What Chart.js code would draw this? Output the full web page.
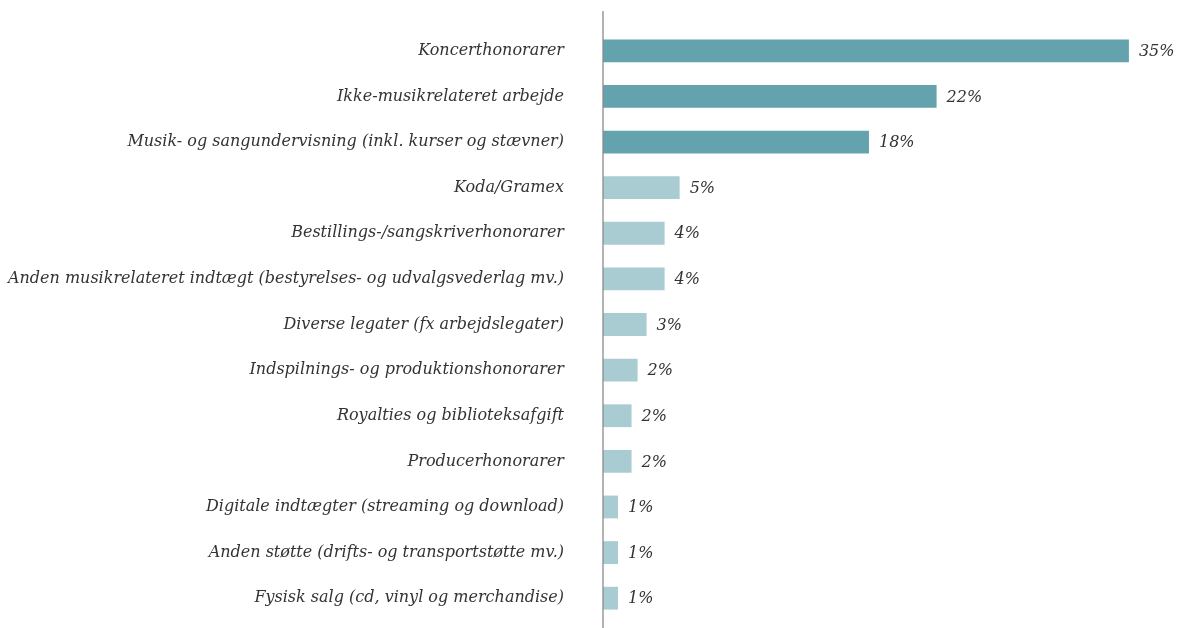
<!DOCTYPE html>
<html><head><meta charset="utf-8">
<script src="https://cdn.jsdelivr.net/npm/chart.js@4.4.1/dist/chart.umd.min.js"></script>
<style>html,body{margin:0;padding:0;background:#fff}#wrap{width:1185px;height:628px;position:relative}</style>
</head><body><div id="wrap"><canvas id="c"></canvas></div>
<script>
const categories = [
  "Koncerthonorarer",
  "Ikke-musikrelateret arbejde",
  "Musik- og sangundervisning (inkl. kurser og stævner)",
  "Koda/Gramex",
  "Bestillings-/sangskriverhonorarer",
  "Anden musikrelateret indtægt (bestyrelses- og udvalgsvederlag mv.)",
  "Diverse legater (fx arbejdslegater)",
  "Indspilnings- og produktionshonorarer",
  "Royalties og biblioteksafgift",
  "Producerhonorarer",
  "Digitale indtægter (streaming og download)",
  "Anden støtte (drifts- og transportstøtte mv.)",
  "Fysisk salg (cd, vinyl og merchandise)"
];
const shares = [35, 22.2, 17.7, 5.1, 4.1, 4.1, 2.9, 2.3, 1.9, 1.9, 1.0, 1.0, 1.0];
const valueLabels = ["35%","22%","18%","5%","4%","4%","3%","2%","2%","2%","1%","1%","1%"];
const highlightCount = 3;

const dark = "#64a3ad", light = "#a9cbd2";
const FONT = "'DejaVu Serif'";

const labelPlugin = {
  id: 'valLabels',
  afterDatasetsDraw(chart) {
    const ctx = chart.ctx;
    const meta = chart.getDatasetMeta(0);
    ctx.save();
    ctx.font = "italic 16px " + FONT;
    ctx.fillStyle = "#333333";
    ctx.textBaseline = "middle";
    ctx.textAlign = "left";
    meta.data.forEach((bar, i) => {
      ctx.fillText(valueLabels[i], bar.x + 10, bar.y + 1);
    });
    ctx.restore();
  }
};
const axisLinePlugin = {
  id: 'axisLine',
  afterDraw(chart) {
    const ctx = chart.ctx;
    const x = chart.chartArea.left;
    ctx.save();
    ctx.strokeStyle = "#8a8a8a";
    ctx.lineWidth = 1.3;
    ctx.beginPath();
    ctx.moveTo(x, chart.chartArea.top - 17);
    ctx.lineTo(x, chart.height);
    ctx.stroke();
    ctx.restore();
  }
};

new Chart(document.getElementById('c'), {
  type: 'bar',
  data: {
    labels: categories,
    datasets: [{
      data: shares,
      backgroundColor: shares.map((v, i) => i < highlightCount ? dark : light),
      barPercentage: 0.5,
      categoryPercentage: 1.0
    }]
  },
  options: {
    indexAxis: 'y',
    responsive: true,
    maintainAspectRatio: false,
    animation: false,
    layout: { padding: { top: 28, bottom: 7, left: 0, right: 11 } },
    plugins: { legend: { display: false }, tooltip: { enabled: false } },
    scales: {
      x: {
        min: 0, max: 38,
        display: false
      },
      y: {
        grid: { display: false, drawTicks: false },
        border: { display: false },
        afterFit(scale) { scale.width = 603; scale.paddingTop = 0; scale.paddingBottom = 0; },
        ticks: {
          padding: 39,
          color: "#333333",
          font: { family: FONT, size: 16, style: 'italic' }
        }
      }
    }
  },
  plugins: [labelPlugin, axisLinePlugin]
});
</script></body></html>
